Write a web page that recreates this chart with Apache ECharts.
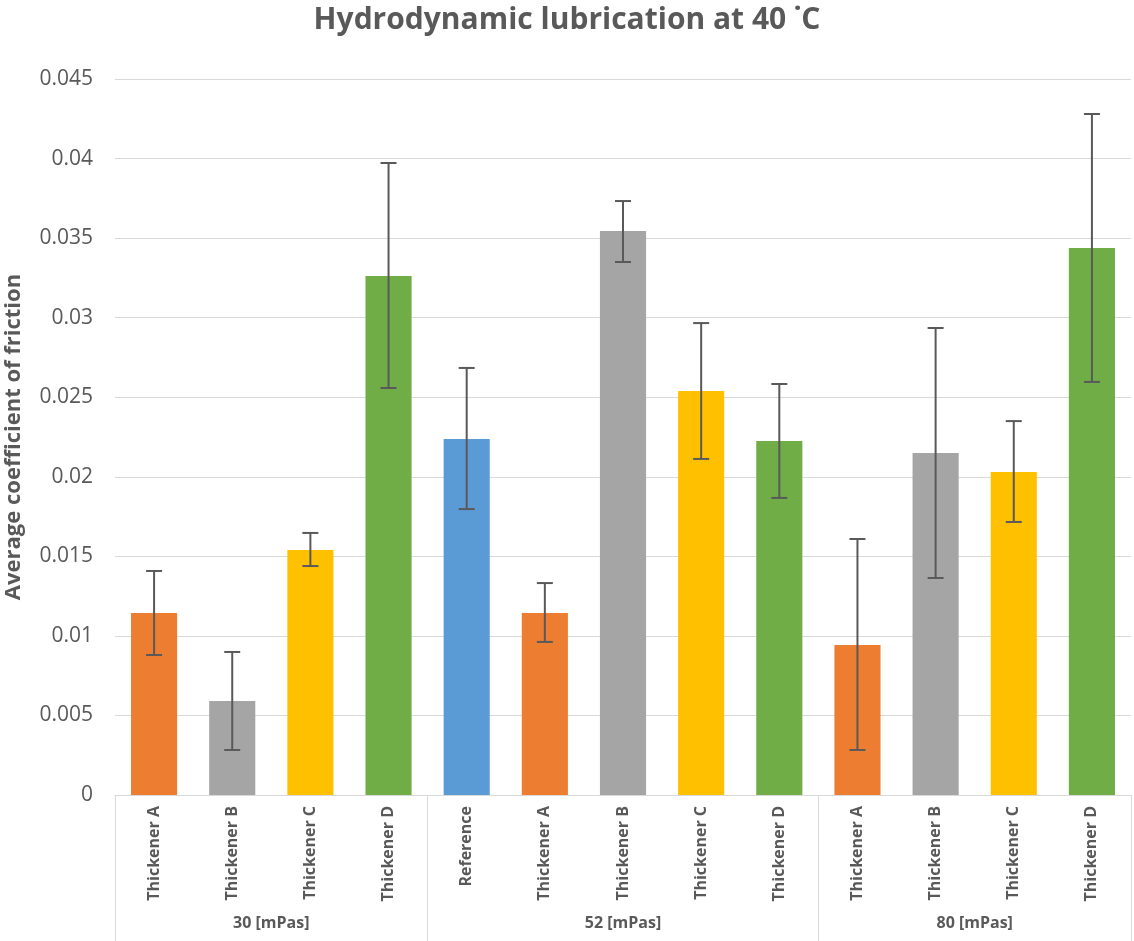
<!DOCTYPE html>
<html>
<head>
<meta charset="utf-8">
<script src="https://cdn.jsdelivr.net/npm/echarts@6/dist/echarts.min.js"></script>
<style>html,body{margin:0;padding:0;background:#fff;}#c{width:1134px;height:941px;}</style>
</head>
<body>
<div id="c"></div>
<script>
const groups = ['30 [mPas]', '52 [mPas]', '80 [mPas]'];
const groupSizes = [4, 5, 4];
const categories = ['Thickener A', 'Thickener B', 'Thickener C', 'Thickener D',
  'Reference', 'Thickener A', 'Thickener B', 'Thickener C', 'Thickener D',
  'Thickener A', 'Thickener B', 'Thickener C', 'Thickener D'];
const values = [0.01144, 0.00591, 0.0154, 0.03262,
  0.02237, 0.01144, 0.03545, 0.02539, 0.02225,
  0.00943, 0.02149, 0.0203, 0.03438];
const errUpper = [0.01408, 0.00899, 0.01647, 0.03972,
  0.02684, 0.01332, 0.03733, 0.02966, 0.02583,
  0.01609, 0.02935, 0.0235, 0.0428];
const errLower = [0.0088, 0.00283, 0.01439, 0.02558,
  0.01797, 0.00962, 0.0335, 0.02112, 0.01867,
  0.00283, 0.01364, 0.01716, 0.02596];
const yTicks = { min: 0, max: 0.045, step: 0.005 };

const colorMap = {
  'Reference': '#5B9BD5', 'Thickener A': '#ED7D31', 'Thickener B': '#A5A5A5',
  'Thickener C': '#FFC000', 'Thickener D': '#70AD47'
};
const FONT = 'Open Sans';
const TXT = '#595959';

// group boundaries and centres in category units
const bounds = [0];
groupSizes.forEach(s => bounds.push(bounds[bounds.length - 1] + s));
const centres = groups.map((g, i) => (bounds[i] + bounds[i + 1]) / 2);

const chart = echarts.init(document.getElementById('c'), null, { renderer: 'canvas' });
chart.setOption({
  animation: false,
  backgroundColor: '#fff',
  title: {
    text: 'Hydrodynamic lubrication at 40 \u02D9C',
    left: 'center', top: 0,
    textStyle: { fontFamily: FONT, fontWeight: 'bold', fontSize: 30, color: TXT }
  },
  grid: { left: 115, right: 3, top: 79, bottom: 146, containLabel: false, outerBoundsMode: 'none' },
  xAxis: [{
    type: 'category',
    data: categories,
    axisLine: { show: true, lineStyle: { color: '#d9d9d9', width: 1 } },
    axisTick: { show: false },
    axisLabel: {
      rotate: 90, interval: 0, margin: 11,
      fontFamily: FONT, fontWeight: 'bold', fontSize: 16, color: TXT
    }
  }, {
    type: 'value', min: 0, max: categories.length, position: 'bottom',
    axisLine: { show: false },
    splitLine: { show: false },
    axisTick: { show: true, customValues: bounds, length: 150, inside: false,
      lineStyle: { color: '#d9d9d9', width: 1 } },
    axisLabel: {
      customValues: centres, margin: 120,
      formatter: v => { const i = centres.findIndex(c => Math.abs(c - v) < 1e-6); return i >= 0 ? groups[i] : ''; },
      fontFamily: FONT, fontWeight: 'bold', fontSize: 16, color: TXT
    }
  }],
  yAxis: {
    type: 'value', min: yTicks.min, max: yTicks.max, interval: yTicks.step,
    name: 'Average coefficient of friction',
    nameLocation: 'middle', nameGap: 90, nameRotate: 90,
    nameTextStyle: { fontFamily: FONT, fontWeight: 'bold', fontSize: 22, color: TXT },
    axisLine: { show: false }, axisTick: { show: false },
    splitLine: { lineStyle: { color: '#d9d9d9', width: 1 } },
    axisLabel: { fontFamily: FONT, fontSize: 21, color: TXT, margin: 22 }
  },
  series: [{
    type: 'bar',
    barWidth: '59%',
    data: values.map((v, i) => ({ value: v, itemStyle: { color: colorMap[categories[i]] } })),
    z: 2
  }, {
    type: 'custom',
    data: values.map((v, i) => [i, errLower[i], errUpper[i]]),
    encode: { x: 0, y: [1, 2] },
    z: 5,
    renderItem: (params, api) => {
      const lo = api.coord([api.value(0), api.value(1)]);
      const hi = api.coord([api.value(0), api.value(2)]);
      const hw = 8;
      const st = { stroke: '#595959', lineWidth: 2 };
      return {
        type: 'group',
        children: [
          { type: 'line', shape: { x1: hi[0], y1: hi[1], x2: lo[0], y2: lo[1] }, style: st },
          { type: 'line', shape: { x1: hi[0] - hw, y1: hi[1], x2: hi[0] + hw, y2: hi[1] }, style: st },
          { type: 'line', shape: { x1: lo[0] - hw, y1: lo[1], x2: lo[0] + hw, y2: lo[1] }, style: st }
        ]
      };
    }
  }]
});
</script>
</body>
</html>
